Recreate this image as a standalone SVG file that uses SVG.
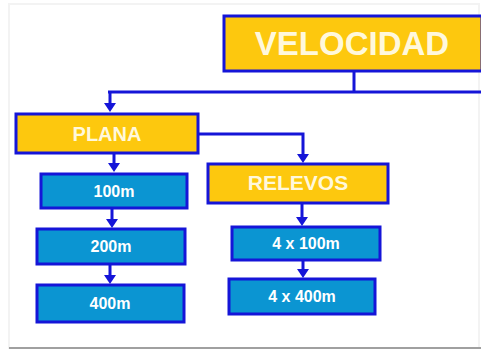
<svg xmlns="http://www.w3.org/2000/svg" width="481" height="350" viewBox="0 0 481 350">
<defs>
<style>
.y{fill:#fdc80e;stroke:#1515d8;stroke-width:3}
.b{fill:#0b95d2;stroke:#1515d8;stroke-width:3}
.t{font-family:"Liberation Sans",Arial,sans-serif;font-weight:bold;fill:#ffffff;text-anchor:middle}
.ty{fill:#fff8dc}
.c{stroke:#1515d8;stroke-width:3;fill:none}
.a{fill:#1515d8}
</style>
</defs>
<rect x="0" y="0" width="481" height="350" fill="#ffffff"/>
<rect x="9" y="4" width="470" height="344" fill="none" stroke="#f3f3f3" stroke-width="2"/>
<line x1="9" y1="348" x2="481" y2="348" stroke="#a0a0a0" stroke-width="2"/>
<g id="connectors">
<path class="c" d="M354,71 V92"/>
<path class="c" d="M108,92 H481"/>
<path class="c" d="M110,92 V105"/>
<polygon class="a" points="104,103 116,103 110,112"/>
<path class="c" d="M198,134 H303 V155"/>
<polygon class="a" points="297,154 309,154 303,163"/>
<path class="c" d="M114,153 V165"/>
<polygon class="a" points="108,163 120,163 114,172"/>
<path class="c" d="M112,208 V220"/>
<polygon class="a" points="106,219 118,219 112,228"/>
<path class="c" d="M110,264 V276"/>
<polygon class="a" points="104,275 116,275 110,284"/>
<path class="c" d="M302,203 V218"/>
<polygon class="a" points="296,217 308,217 302,226"/>
<path class="c" d="M303,260 V270"/>
<polygon class="a" points="297,269 309,269 303,278"/>
</g>
<g id="velocidad">
<rect class="y" x="224" y="16" width="258" height="55"/>
<text class="t ty" x="352" y="55" font-size="33">VELOCIDAD</text>
</g>
<g id="plana">
<rect class="y" x="16" y="114" width="182" height="39"/>
<text class="t ty" x="107" y="141" font-size="20">PLANA</text>
</g>
<g id="relevos">
<rect class="y" x="208" y="164" width="180" height="39"/>
<text class="t ty" x="298" y="190" font-size="21">RELEVOS</text>
</g>
<g id="m100">
<rect class="b" x="41" y="174" width="146" height="34"/>
<text class="t" x="114" y="197" font-size="16">100m</text>
</g>
<g id="m200">
<rect class="b" x="37" y="229" width="148" height="35"/>
<text class="t" x="111" y="252" font-size="16">200m</text>
</g>
<g id="m400">
<rect class="b" x="37" y="285" width="147" height="37"/>
<text class="t" x="110" y="309" font-size="16">400m</text>
</g>
<g id="r4x100">
<rect class="b" x="232" y="227" width="148" height="33"/>
<text class="t" x="306" y="249" font-size="16">4 x 100m</text>
</g>
<g id="r4x400">
<rect class="b" x="229" y="279" width="146" height="35"/>
<text class="t" x="302" y="302" font-size="16">4 x 400m</text>
</g>
</svg>
